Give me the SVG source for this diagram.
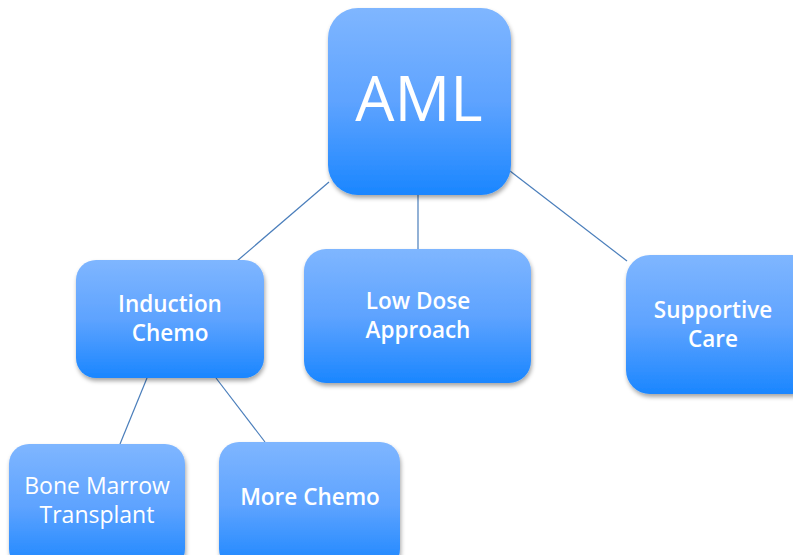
<svg xmlns="http://www.w3.org/2000/svg" width="793" height="555" viewBox="0 0 793 555">
  <defs>
    <linearGradient id="boxFill" x1="0" y1="0" x2="0" y2="1">
      <stop offset="0" stop-color="#7fb6ff"/>
      <stop offset="0.5" stop-color="#5ea3ff"/>
      <stop offset="1" stop-color="#1a86ff"/>
    </linearGradient>
    <filter id="shadow" x="-10%" y="-10%" width="120%" height="125%">
      <feDropShadow dx="1" dy="3" stdDeviation="2" flood-color="#000" flood-opacity="0.35"/>
    </filter>
    <style>
      .box { fill: url(#boxFill); filter: url(#shadow); }
      .lbl { fill: #ffffff; font-family: "Open Sans", "Noto Sans", "DejaVu Sans", sans-serif; font-weight: 600; font-size: 22.5px; text-anchor: middle; }
      .thin { font-weight: 400; font-size: 23px; }
      .big { font-size: 62px; font-weight: 400; }
      .conn line { stroke: #4a7ebb; stroke-width: 1.2; }
    </style>
  </defs>
  <rect width="793" height="555" fill="#ffffff"/>

  <g id="connectors" class="conn">
    <line x1="329" y1="182" x2="237" y2="261"/>
    <line x1="418" y1="195" x2="418" y2="249"/>
    <line x1="510" y1="171" x2="627" y2="261"/>
    <line x1="147" y1="378" x2="120" y2="444"/>
    <line x1="216" y1="378" x2="265" y2="442"/>
  </g>

  <g id="aml">
    <rect class="box" x="328" y="8" width="183" height="187" rx="30"/>
    <text class="lbl big" x="419" y="121">AML</text>
  </g>

  <g id="induction-chemo">
    <rect class="box" x="76" y="260" width="188" height="118" rx="20"/>
    <text class="lbl" x="170" y="312">Induction</text>
    <text class="lbl" x="170" y="341">Chemo</text>
  </g>

  <g id="low-dose-approach">
    <rect class="box" x="304" y="249" width="227" height="134" rx="22"/>
    <text class="lbl" x="418" y="309">Low Dose</text>
    <text class="lbl" x="418" y="338">Approach</text>
  </g>

  <g id="supportive-care">
    <rect class="box" x="626" y="255" width="190" height="139" rx="24"/>
    <text class="lbl" x="713" y="318">Supportive</text>
    <text class="lbl" x="713" y="347">Care</text>
  </g>

  <g id="bone-marrow-transplant">
    <rect class="box" x="9" y="444" width="176" height="125" rx="20"/>
    <text class="lbl thin" x="97" y="494">Bone Marrow</text>
    <text class="lbl thin" x="97" y="523">Transplant</text>
  </g>

  <g id="more-chemo">
    <rect class="box" x="219" y="442" width="181" height="127" rx="20"/>
    <text class="lbl" x="310" y="505">More Chemo</text>
  </g>
</svg>
